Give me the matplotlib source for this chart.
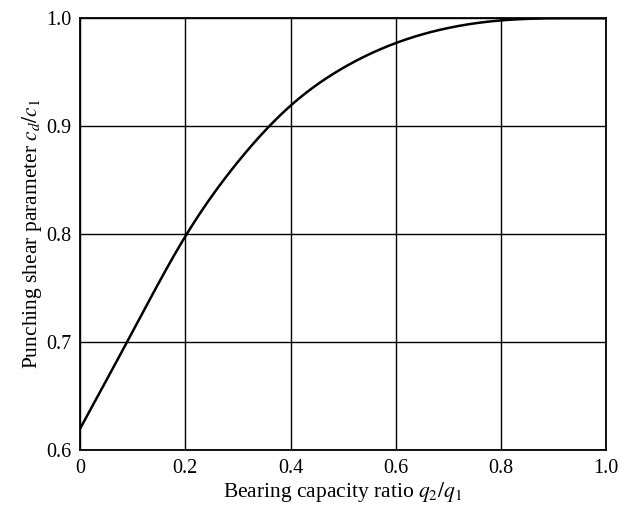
import numpy as np
import matplotlib
matplotlib.use('Agg')
import matplotlib.pyplot as plt

plt.rcParams['font.family'] = ['Liberation Serif', 'DejaVu Serif']
plt.rcParams['mathtext.fontset'] = 'stix'

# values
q_ratio = [0.0, 0.1, 0.2, 0.3, 0.4, 0.5, 0.6, 0.7, 0.8, 0.9, 1.0]
c_ratio = [0.620, 0.710, 0.798, 0.867, 0.919, 0.954, 0.977, 0.991, 0.998, 1.0, 1.0]

x_ticks = [0, 0.2, 0.4, 0.6, 0.8, 1.0]
x_tick_labels = ['0', '0.2', '0.4', '0.6', '0.8', '1.0']
y_ticks = [0.6, 0.7, 0.8, 0.9, 1.0]
y_tick_labels = ['0.6', '0.7', '0.8', '0.9', '1.0']

fig = plt.figure(figsize=(6.21, 5.07), dpi=100)
ax = fig.add_axes([0.129, 0.112, 0.847, 0.852])

# natural cubic spline through the read points
x = np.array(q_ratio)
y = np.array(c_ratio)
n = len(x)
h = np.diff(x)
A = np.zeros((n, n))
b = np.zeros(n)
A[0, 0] = A[-1, -1] = 1
for i in range(1, n - 1):
    A[i, i - 1] = h[i - 1]
    A[i, i] = 2 * (h[i - 1] + h[i])
    A[i, i + 1] = h[i]
    b[i] = 6 * ((y[i + 1] - y[i]) / h[i] - (y[i] - y[i - 1]) / h[i - 1])
M = np.linalg.solve(A, b)
xs = np.linspace(0, 1, 500)
k = np.clip(np.searchsorted(x, xs) - 1, 0, n - 2)
a = x[k + 1] - xs
c = xs - x[k]
ys = (M[k] * a**3 / (6 * h[k]) + M[k + 1] * c**3 / (6 * h[k])
      + (y[k] / h[k] - M[k] * h[k] / 6) * a + (y[k + 1] / h[k] - M[k + 1] * h[k] / 6) * c)
ys = np.minimum(ys, 1.0)

ax.plot(xs, ys, color='black', lw=1.8)

ax.set_xlim(0, 1.0)
ax.set_ylim(0.6, 1.0)
ax.set_xticks(x_ticks)
ax.set_xticklabels(x_tick_labels)
ax.set_yticks(y_ticks)
ax.set_yticklabels(y_tick_labels)
ax.tick_params(length=0, labelsize=14.5, pad=6)
ax.grid(True, color='black', lw=1.0)
for s in ax.spines.values():
    s.set_linewidth(1.3)

ax.set_xlabel('Bearing capacity ratio $q_2/q_1$', fontsize=15.5, labelpad=2)
ax.set_ylabel('Punching shear parameter $c_d/c_1$', fontsize=15.5, labelpad=2)

fig.savefig('out.png', dpi=100)
